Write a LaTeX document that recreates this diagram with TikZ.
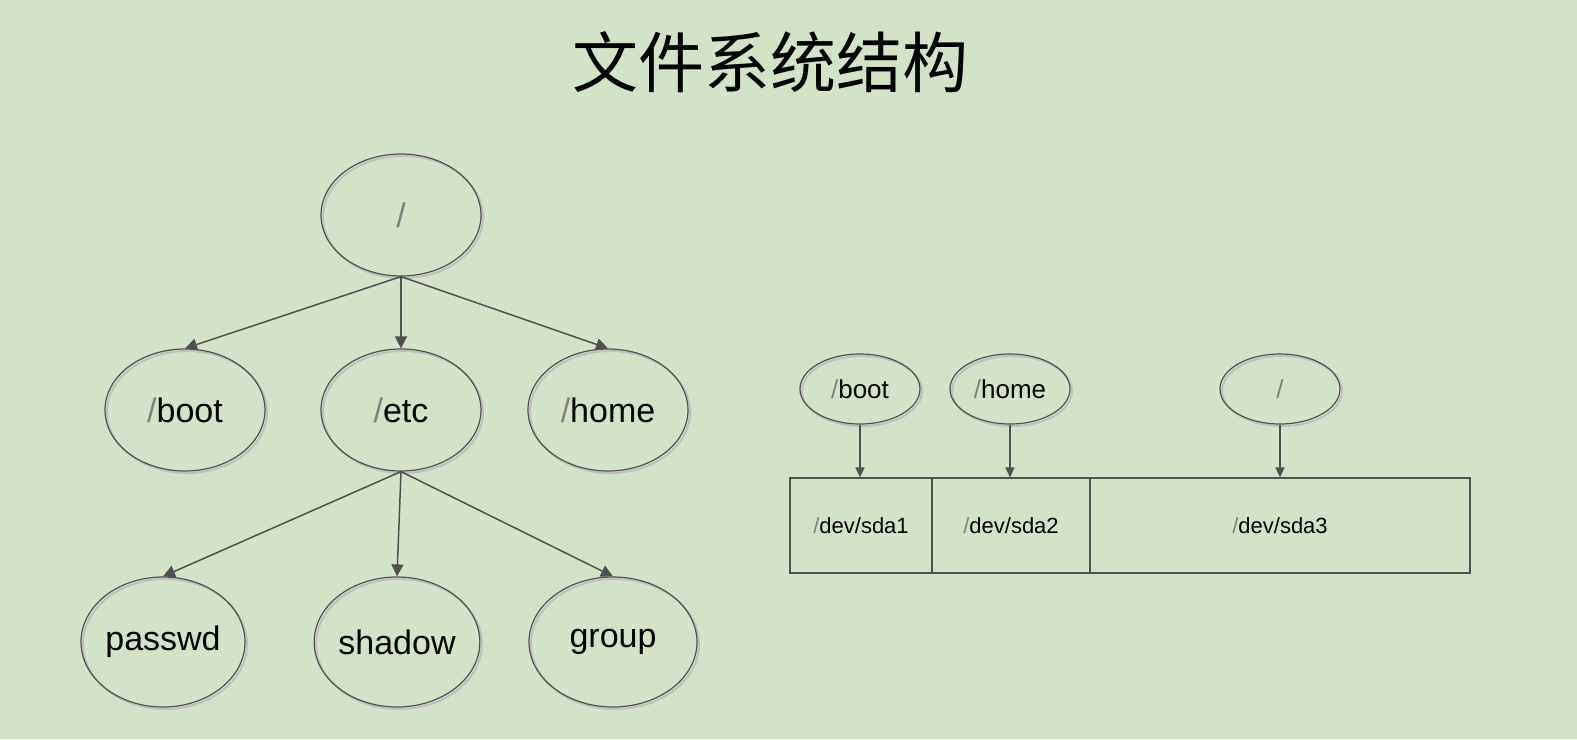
\documentclass[tikz,border=0pt]{standalone}
\usepackage{fontspec}
\setmainfont{Liberation Sans}
\newfontfamily\cjk{Noto Sans CJK SC}
\usetikzlibrary{shapes.geometric,arrows.meta}
\definecolor{bg}{HTML}{D3E3C7}
\definecolor{ln}{HTML}{505050}
\definecolor{sl}{HTML}{808080}
\begin{document}
\begin{tikzpicture}[x=1pt,y=-1pt,
  el/.style={ellipse,draw=ln,line width=1.2pt,inner sep=0pt,
    preaction={draw=black!25,line width=2pt,transform canvas={shift={(2pt,-2pt)}}}},
  big/.style={el,minimum width=160pt,minimum height=122pt,font=\fontsize{34}{36}\selectfont},
  sm/.style={el,minimum width=120pt,minimum height=70pt,font=\fontsize{26}{28}\selectfont},
  cell/.style={draw=ln,line width=1.2pt,minimum height=95pt,inner sep=0pt,font=\fontsize{22}{24}\selectfont},
  arr/.style={draw=ln,line width=1.5pt,-{Triangle[length=12pt,width=12pt]}},
  sarr/.style={draw=ln,line width=1.3pt,-{Triangle[length=10pt,width=9pt]}}]
\useasboundingbox (0,0) rectangle (1577,739);
\fill[bg] (0,0) rectangle (1577,739);
\node[font=\cjk\fontsize{66}{70}\selectfont] (title) at (770,62) {文件系统结构};
\node[big] (root) at (401,215) {\textcolor{sl}{/}};
\node[big] (boot) at (185,410) {\textcolor{sl}{/}boot};
\node[big] (etc) at (401,410) {\textcolor{sl}{/}etc};
\node[big] (home) at (608,410) {\textcolor{sl}{/}home};
\node[big,minimum width=164pt,minimum height=130pt] (passwd) at (163,642) {passwd};
\node[big,minimum width=164pt,minimum height=130pt] (shadow) at (397,642) {shadow};
\node[big,minimum width=168pt,minimum height=130pt] (group) at (613,642) {group};
\draw[arr] (root.south) -- (boot.north);
\draw[arr] (root.south) -- (etc.north);
\draw[arr] (root.south) -- (home.north);
\draw[arr] (etc.south) -- (passwd.north);
\draw[arr] (etc.south) -- (shadow.north);
\draw[arr] (etc.south) -- (group.north);
\node[sm] (rboot) at (860,389) {\textcolor{sl}{/}boot};
\node[sm] (rhome) at (1010,389) {\textcolor{sl}{/}home};
\node[sm] (rroot) at (1280,389) {\textcolor{sl}{/}};
\node[cell,minimum width=142pt] (s1) at (861,525.5) {\textcolor{sl}{/}dev/sda1};
\node[cell,minimum width=158pt] (s2) at (1011,525.5) {\textcolor{sl}{/}dev/sda2};
\node[cell,minimum width=380pt] (s3) at (1280,525.5) {\textcolor{sl}{/}dev/sda3};
\draw[sarr] (rboot.south) -- (rboot.south |- s1.north);
\draw[sarr] (rhome.south) -- (rhome.south |- s2.north);
\draw[sarr] (rroot.south) -- (rroot.south |- s3.north);
\end{tikzpicture}
\end{document}
